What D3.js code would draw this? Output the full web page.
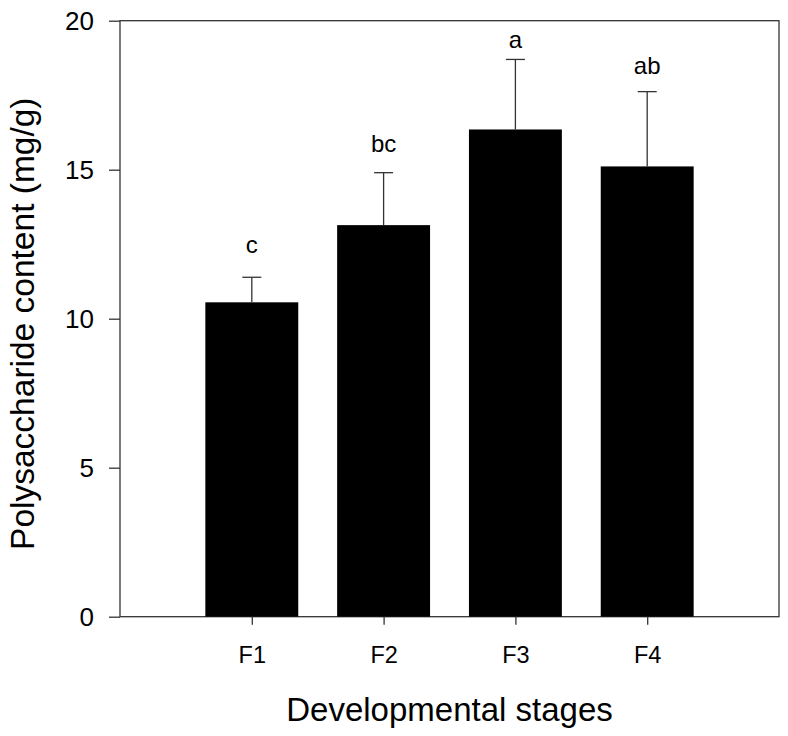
<!DOCTYPE html>
<html><head><meta charset="utf-8">
<script src="https://cdn.jsdelivr.net/npm/d3@7"></script>
<style>body{margin:0;background:#fff}svg{display:block}text{font-family:"Liberation Sans",Arial,sans-serif;fill:#000}</style>
</head><body>
<script>
const categories = ["F1","F2","F3","F4"];
const means = [10.55, 13.14, 16.35, 15.11];
const errors = [0.84, 1.76, 2.35, 2.51];
const letters = ["c","bc","a","ab"];
const letterY = [12.2, 15.6, 19.1, 18.2];
const yTicks = [0,5,10,15,20];

const W = 788, H = 736;
const m = {left:120, right:9, top:20.7, bottom:119.3};
const svg = d3.select("body").append("svg").attr("width",W).attr("height",H);
const x = d3.scaleLinear().domain([0,5]).range([m.left, W-m.right]);
const y = d3.scaleLinear().domain([0,20]).range([H-m.bottom, m.top]);
const slot = x(1)-x(0), bw = slot*0.705;

// frame
svg.append("rect").attr("x",x(0)).attr("y",y(20)).attr("width",x(5)-x(0)).attr("height",y(0)-y(20))
  .attr("fill","none").attr("stroke","#333").attr("stroke-width",1.3);

// bars
svg.selectAll(".bar").data(means).join("rect")
  .attr("x",(d,i)=>x(i+1)-bw/2).attr("width",bw)
  .attr("y",d=>y(d)).attr("height",d=>y(0)-y(d)).attr("fill","#000");

// error bars
const eg = svg.append("g").attr("stroke","#333").attr("stroke-width",1.3);
means.forEach((d,i)=>{
  eg.append("line").attr("x1",x(i+1)).attr("x2",x(i+1)).attr("y1",y(d)).attr("y2",y(d+errors[i]));
  eg.append("line").attr("x1",x(i+1)-9.5).attr("x2",x(i+1)+9.5).attr("y1",y(d+errors[i])).attr("y2",y(d+errors[i]));
});

// letters
svg.selectAll(".let").data(letters).join("text")
  .attr("x",(d,i)=>x(i+1)).attr("y",(d,i)=>y(letterY[i]))
  .attr("text-anchor","middle").attr("font-size",24).text(d=>d);

// y axis
const ya = svg.append("g").attr("transform",`translate(${x(0)},0)`)
  .call(d3.axisLeft(y).tickValues(yTicks).tickSize(11).tickPadding(15));
ya.select(".domain").remove();
ya.selectAll("line").attr("stroke","#333").attr("stroke-width",1.3);
ya.selectAll("text").attr("font-size",26).attr("font-family","Liberation Sans, Arial, sans-serif").attr("fill","#000");

// x axis
const xa = svg.append("g").attr("transform",`translate(0,${y(0)})`)
  .call(d3.axisBottom(x).tickValues([1,2,3,4]).tickFormat((d)=>categories[d-1]).tickSize(8).tickPadding(22));
xa.select(".domain").remove();
xa.selectAll("line").attr("stroke","#333").attr("stroke-width",1.3);
xa.selectAll("text").attr("font-size",23.5).attr("font-family","Liberation Sans, Arial, sans-serif").attr("fill","#000");

// titles
svg.append("text").attr("x",(x(0)+x(5))/2).attr("y",721).attr("text-anchor","middle")
  .attr("font-size",33).text("Developmental stages");
svg.append("text").attr("transform",`translate(34,${(y(0)+y(20))/2 + 5}) rotate(-90)`).attr("text-anchor","middle")
  .attr("font-size",33.5).text("Polysaccharide content (mg/g)");
</script>
</body></html>
